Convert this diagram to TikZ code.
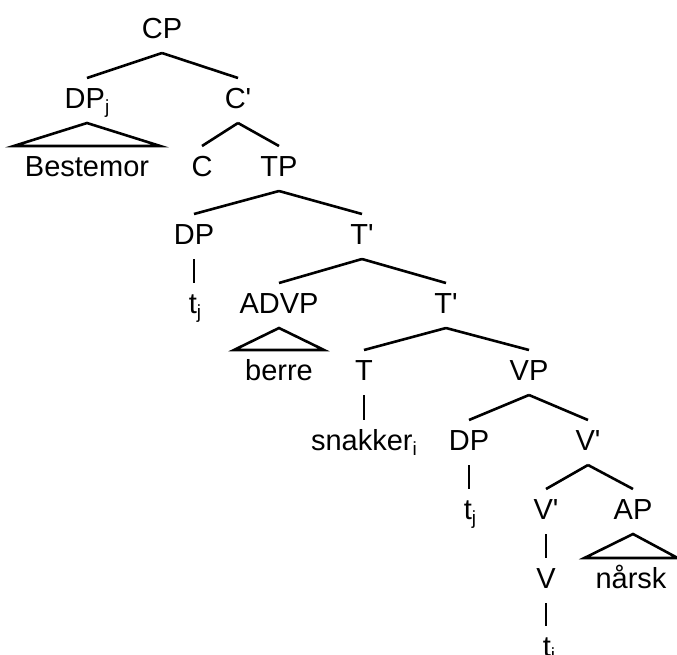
\documentclass[tikz,border=0pt]{standalone}
\usepackage{fontspec}
\setmainfont{Liberation Sans}
\usetikzlibrary{calc}
% lowered index letter after a label
\newcommand\idx[1]{\raisebox{-5pt}{\fontsize{19}{19}\selectfont #1}}
% bar-level prime, straight
\newcommand\barlvl{\textquotesingle}
\begin{document}
\begin{tikzpicture}[x=1pt,y=-1pt,
  lbl/.style={anchor=base,inner sep=0pt,font=\fontsize{29}{29}\selectfont},
  edge/.style={line width=2.6pt}]
\useasboundingbox (0,0) rectangle (677,654);
% branch: parent apex to child top
\newcommand\branch[2]{\draw[edge] ($(#1.base)+(0,15)$) -- ($(#2.base)+(0,-30)$);}
% unary line straight down from the parent
\newcommand\unary[2]{\draw[edge] ($(#1.base)+(0,15)$) -- ($(#1.base |- #2.base)+(0,-30)$);}
% roof over a phrase
\newcommand\roof[2]{\draw[edge] ($(#1.base)+(0,15)$) -- ($(#2.base west)+(-11,-30)$) -- ($(#2.base east)+(11,-30)$) -- cycle;}

\node[lbl] (CP)  at (162,38)  {CP};
\node[lbl] (DPj) at (87,108)  {DP\idx{j}};
\node[lbl] (Cb)  at (238,108) {C\barlvl};
\node[lbl] (Best) at (87,176) {Bestemor};
\node[lbl] (C)   at (202,176) {C};
\node[lbl] (TP)  at (279,176) {TP};
\node[lbl] (DPa) at (194,244) {DP};
\node[lbl] (Tba) at (362,244) {T\barlvl};
\node[lbl] (tja) at (195,313) {t\idx{j}};
\node[lbl] (ADVP) at (279,313) {ADVP};
\node[lbl] (Tbb) at (446,313) {T\barlvl};
\node[lbl] (berre) at (279,380) {berre};
\node[lbl] (T)   at (364,380) {T};
\node[lbl] (VP)  at (529,380) {VP};
\node[lbl] (snak) at (364,450) {snakker\idx{i}};
\node[lbl] (DPb) at (469,450) {DP};
\node[lbl] (Vba) at (588,450) {V\barlvl};
\node[lbl] (tjb) at (470,519) {t\idx{j}};
\node[lbl] (Vbb) at (546,519) {V\barlvl};
\node[lbl] (AP)  at (633,519) {AP};
\node[lbl] (V)   at (546,588) {V};
\node[lbl] (narsk) at (631,588) {nårsk};
\node[lbl] (ti)  at (549,656) {t\idx{i}};

\branch{CP}{DPj} \branch{CP}{Cb}
\roof{DPj}{Best}
\branch{Cb}{C} \branch{Cb}{TP}
\branch{TP}{DPa} \branch{TP}{Tba}
\unary{DPa}{tja}
\branch{Tba}{ADVP} \branch{Tba}{Tbb}
\roof{ADVP}{berre}
\branch{Tbb}{T} \branch{Tbb}{VP}
\unary{T}{snak}
\branch{VP}{DPb} \branch{VP}{Vba}
\unary{DPb}{tjb}
\branch{Vba}{Vbb} \branch{Vba}{AP}
\roof{AP}{narsk}
\unary{Vbb}{V}
\unary{V}{ti}
\end{tikzpicture}
\end{document}
